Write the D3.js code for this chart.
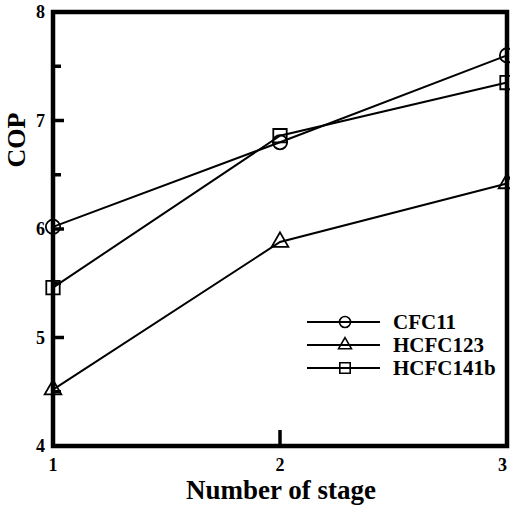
<!DOCTYPE html>
<html>
<head>
<meta charset="utf-8">
<script src="https://cdn.jsdelivr.net/npm/d3@7"></script>
<style>
body { margin: 0; background: #fff; }
text { font-family: "Liberation Serif", "Times New Roman", serif; font-weight: bold; fill: #000; }
</style>
</head>
<body>
<div id="chart"></div>
<script>
// data
var stages = [1, 2, 3]
var cfc11 = [6.02, 6.80, 7.60]
var hcfc123 = [4.52, 5.88, 6.42]
var hcfc141b = [5.46, 6.86, 7.35]
var seriesNames = ["CFC11", "HCFC123", "HCFC141b"]
var yTicks = [4, 5, 6, 7, 8]
var yMinor = [4.5, 5.5, 6.5, 7.5]

var margin = {top: 12, right: 3, bottom: 62, left: 53},
width = 510 - margin.left - margin.right,
height = 508 - margin.top - margin.bottom;

var svg = d3.select("#chart")
.append("svg")
.attr("width", 510)
.attr("height", 508)
.append("g")
.attr("transform", "translate(" + margin.left + "," + margin.top + ")");

var x = d3.scaleLinear().domain([1, 3]).range([0, width])
var y = d3.scaleLinear().domain([4, 8]).range([height, 0])

// frame
svg.append("rect")
.attr("x", 0).attr("y", 0)
.attr("width", width).attr("height", height)
.attr("fill", "none")
.attr("stroke", "#000")
.attr("stroke-width", 4.5)

// y ticks, inward
svg.selectAll(".ytick")
.data(yTicks.slice(1, -1))
.enter().append("line")
.attr("x1", 0).attr("x2", 11)
.attr("y1", function(d){ return y(d) }).attr("y2", function(d){ return y(d) })
.attr("stroke", "#000").attr("stroke-width", 3.5)

svg.selectAll(".yminor")
.data(yMinor)
.enter().append("line")
.attr("x1", 0).attr("x2", 8)
.attr("y1", function(d){ return y(d) }).attr("y2", function(d){ return y(d) })
.attr("stroke", "#000").attr("stroke-width", 3.5)

svg.selectAll(".ylab")
.data(yTicks)
.enter().append("text")
.attr("x", -8)
.attr("y", function(d){ return y(d) + 6 })
.attr("text-anchor", "end")
.style("font-size", "18px")
.text(function(d){ return d })

// x ticks
svg.append("line")
.attr("x1", x(2)).attr("x2", x(2))
.attr("y1", height).attr("y2", height - 16)
.attr("stroke", "#000").attr("stroke-width", 3.5)

svg.selectAll(".xlab")
.data(stages)
.enter().append("text")
.attr("x", function(d){ return x(d) })
.attr("y", height + 25)
.attr("text-anchor", function(d){ return d == 3 ? "end" : "middle" })
.style("font-size", "18px")
.text(function(d){ return d })

svg.append("text")
.attr("x", width / 2 + 1)
.attr("y", height + 53)
.attr("text-anchor", "middle")
.style("font-size", "27px")
.text("Number of stage")

svg.append("text")
.attr("transform", "translate(" + (-28) + "," + (140 - margin.top) + ") rotate(-90)")
.attr("text-anchor", "middle")
.style("font-size", "26px")
.text("COP")

var allSeries = [cfc11, hcfc123, hcfc141b]
var symbols = [d3.symbolCircle, d3.symbolTriangle, d3.symbolSquare]
var sizes = [160, 120, 180]

var line = d3.line()
.x(function(d, i){ return x(stages[i]) })
.y(function(d){ return y(d) })

allSeries.forEach(function(s, k){
  svg.append("path")
  .datum(s)
  .attr("fill", "none")
  .attr("stroke", "#000")
  .attr("stroke-width", 2)
  .attr("d", line)

  svg.selectAll(".pt" + k)
  .data(s)
  .enter().append("path")
  .attr("transform", function(d, i){ return "translate(" + x(stages[i]) + "," + y(d) + ")" })
  .attr("d", d3.symbol().type(symbols[k]).size(sizes[k]))
  .attr("fill", "none")
  .attr("stroke", "#000")
  .attr("stroke-width", 1.8)
})

// legend
var legend = svg.append("g")
.attr("transform", "translate(" + (307 - margin.left) + "," + (322 - margin.top) + ")")

seriesNames.forEach(function(name, k){
  var g = legend.append("g").attr("transform", "translate(0," + (k * 23) + ")")
  g.append("line")
  .attr("x1", 0).attr("x2", 73)
  .attr("y1", 0).attr("y2", 0)
  .attr("stroke", "#000").attr("stroke-width", 2)
  g.append("path")
  .attr("transform", "translate(38,0)")
  .attr("d", d3.symbol().type(symbols[k]).size(sizes[k] * 0.6))
  .attr("fill", "none")
  .attr("stroke", "#000")
  .attr("stroke-width", 1.6)
  g.append("text")
  .attr("x", 86)
  .attr("y", 7)
  .style("font-size", "21px")
  .text(name)
})
</script>
</body>
</html>
